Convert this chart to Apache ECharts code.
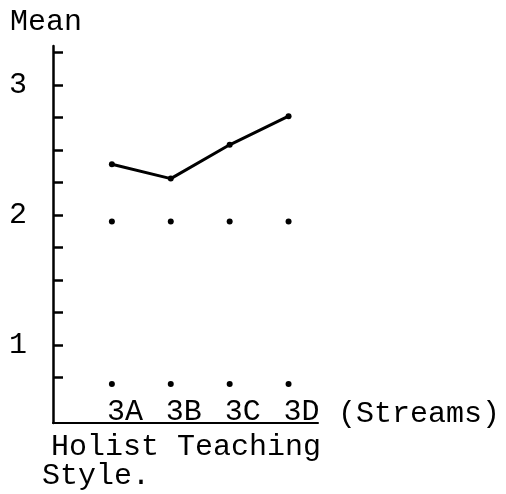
<!DOCTYPE html>
<html>
<head>
<meta charset="utf-8">
<script src="https://cdn.jsdelivr.net/npm/echarts@6/dist/echarts.min.js"></script>
<style>
  html, body { margin: 0; padding: 0; background: #fff; }
  #chart { width: 506px; height: 494px; }
</style>
</head>
<body>
<div id="chart"></div>
<script>
// streams on the x axis, placed at 1..4
const streams = ["3A", "3B", "3C", "3D"];
const streamPos = [1, 2, 3, 4];
// mean scores
const holistMeans = [2.39, 2.28, 2.54, 2.76];
const upperDots = [1.95, 1.95, 1.95, 1.95];
const lowerDots = [0.7, 0.7, 0.7, 0.7];
// y ticks every quarter, labels only on whole numbers
const yTicks = [0.75, 1, 1.25, 1.5, 1.75, 2, 2.25, 2.5, 2.75, 3, 3.25];
const yLabels = [1, 2, 3];

const font = "Liberation Mono";

var chart = echarts.init(document.getElementById("chart"));

const option = {
  backgroundColor: "#fff",
  animation: false,
  title: [
    { text: "Mean", left: 5, top: 2, textStyle: { fontFamily: font, fontSize: 30, fontWeight: "normal", color: "#000" } },
    { text: "Holist Teaching", left: 46, top: 427, textStyle: { fontFamily: font, fontSize: 30, fontWeight: "normal", color: "#000" } },
    { text: "Style.", left: 37, top: 456, textStyle: { fontFamily: font, fontSize: 30, fontWeight: "normal", color: "#000" } },
  ],
  grid: {
    left: 53,
    right: 188,
    top: 46,
    bottom: 71,
  },
  xAxis: {
    type: "value",
    min: 0,
    max: 4.5,
    name: "(Streams)",
    nameLocation: "end",
    nameGap: 20,
    nameTextStyle: {
      fontFamily: font,
      fontSize: 30,
      color: "#000",
      verticalAlign: "bottom",
      align: "left",
      padding: [0, 0, -6, 0],
    },
    splitLine: { show: false },
    axisLine: { lineStyle: { color: "#000", width: 2 } },
    axisTick: { show: false },
    axisLabel: {
      inside: true,
      margin: -4,
      customValues: streamPos,
      formatter: (value) => streams[streamPos.indexOf(value)] || "",
      fontFamily: font,
      fontSize: 30,
      color: "#000",
      padding: [0, 0, 0, 26],
    },
  },
  yAxis: {
    type: "value",
    min: 0.4,
    max: 3.3,
    splitLine: { show: false },
    axisLine: { show: true, lineStyle: { color: "#000", width: 2.5 } },
    axisTick: {
      show: true,
      inside: true,
      length: 10,
      customValues: yTicks,
      lineStyle: { color: "#000", width: 2.5 },
    },
    axisLabel: {
      margin: 26,
      customValues: yLabels,
      fontFamily: font,
      fontSize: 30,
      color: "#000",
    },
  },
  series: [
    {
      name: "Holist",
      type: "line",
      data: streamPos.map((x, i) => [x, holistMeans[i]]),
      symbol: "circle",
      symbolSize: 6,
      itemStyle: { color: "#000" },
      lineStyle: { color: "#000", width: 3 },
    },
    {
      name: "upper",
      type: "scatter",
      data: streamPos.map((x, i) => [x, upperDots[i]]),
      symbolSize: 6,
      itemStyle: { color: "#000", opacity: 1 },
    },
    {
      name: "lower",
      type: "scatter",
      data: streamPos.map((x, i) => [x, lowerDots[i]]),
      symbolSize: 6,
      itemStyle: { color: "#000", opacity: 1 },
    },
  ],
};

chart.setOption(option);
</script>
</body>
</html>
